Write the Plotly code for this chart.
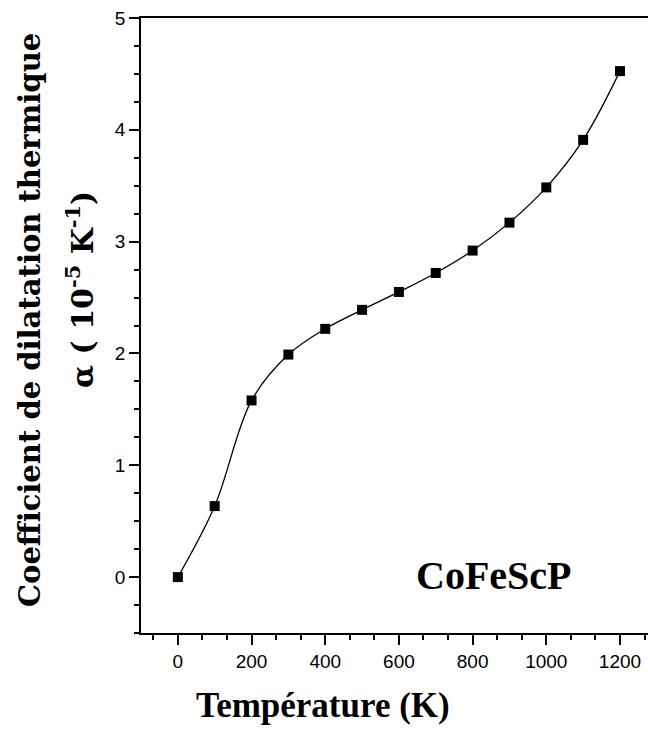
import plotly.graph_objects as go

# Thermal expansion coefficient of CoFeScP vs temperature
temperature_K = [0, 100, 200, 300, 400, 500, 600, 700, 800, 900, 1000, 1100, 1200]
alpha_1e5_per_K = [0.0, 0.635, 1.58, 1.99, 2.22, 2.39, 2.55, 2.72, 2.92, 3.17, 3.485, 3.91, 4.525]

x_ticks = [0, 200, 400, 600, 800, 1000, 1200]
y_ticks = [0, 1, 2, 3, 4, 5]

W, H = 648, 751
L, R, T, B = 141, 0, 18, 118
X_RANGE = [-100, 1276]
Y_RANGE = [-0.5, 5]


def px_to_paper_x(px):
    return (px - L) / (W - L - R)


def px_to_paper_y(py):
    return (H - B - py) / (H - B - T)


fig = go.Figure()
fig.add_trace(go.Scatter(
    x=temperature_K,
    y=alpha_1e5_per_K,
    mode="lines+markers",
    line=dict(color="black", width=1.3, shape="spline", smoothing=1),
    marker=dict(symbol="square", size=10, color="black"),
    showlegend=False,
    cliponaxis=False,
))

axis_font = dict(family="Liberation Sans, Arial, sans-serif", size=19, color="black")

fig.update_xaxes(
    range=X_RANGE,
    tickvals=x_ticks,
    ticks="outside", ticklen=10, tickwidth=1.5, tickcolor="black",
    showline=True, linecolor="black", linewidth=1.5, mirror=True,
    showgrid=False, zeroline=False,
    tickfont=axis_font,
    minor=dict(dtick=200 / 3, tick0=0, ticks="outside", ticklen=5,
               tickwidth=1.5, tickcolor="black", showgrid=False),
)
fig.update_yaxes(
    range=Y_RANGE,
    tickvals=y_ticks,
    ticks="outside", ticklen=10, tickwidth=1.5, tickcolor="black",
    showline=True, linecolor="black", linewidth=1.5, mirror=False,
    showgrid=False, zeroline=False,
    tickfont=axis_font,
    minor=dict(dtick=0.25, tick0=0, ticks="outside", ticklen=5,
               tickwidth=1.5, tickcolor="black", showgrid=False),
)

title_family = "DejaVu Serif, Liberation Serif, serif"
serif_bold = dict(family="Liberation Serif, Times New Roman, serif", color="black")

fig.add_annotation(
    text="<b>Coefficient de dilatation thermique</b>",
    xref="paper", yref="paper",
    x=px_to_paper_x(30), y=px_to_paper_y(320),
    xanchor="center", yanchor="middle",
    textangle=-90, showarrow=False,
    font=dict(family=title_family, size=29, color="black"),
)
fig.add_annotation(
    text="<b>α ( 10<sup>-5</sup> K<sup>-1</sup>)</b>",
    xref="paper", yref="paper",
    x=px_to_paper_x(80), y=px_to_paper_y(290),
    xanchor="center", yanchor="middle",
    textangle=-90, showarrow=False,
    font=dict(family=title_family, size=30, color="black"),
)
fig.add_annotation(
    text="<b>Température (K)</b>",
    xref="paper", yref="paper",
    x=px_to_paper_x(323), y=px_to_paper_y(705),
    xanchor="center", yanchor="middle",
    showarrow=False, font=dict(size=35, **serif_bold),
)
fig.add_annotation(
    text="<b>CoFeScP</b>",
    xref="paper", yref="paper",
    x=px_to_paper_x(494), y=px_to_paper_y(575),
    xanchor="center", yanchor="middle",
    showarrow=False, font=dict(size=40, **serif_bold),
)

fig.update_layout(
    width=W, height=H,
    margin=dict(l=L, r=R, t=T, b=B, pad=0),
    paper_bgcolor="white", plot_bgcolor="white",
)

fig.write_html("out.html")
